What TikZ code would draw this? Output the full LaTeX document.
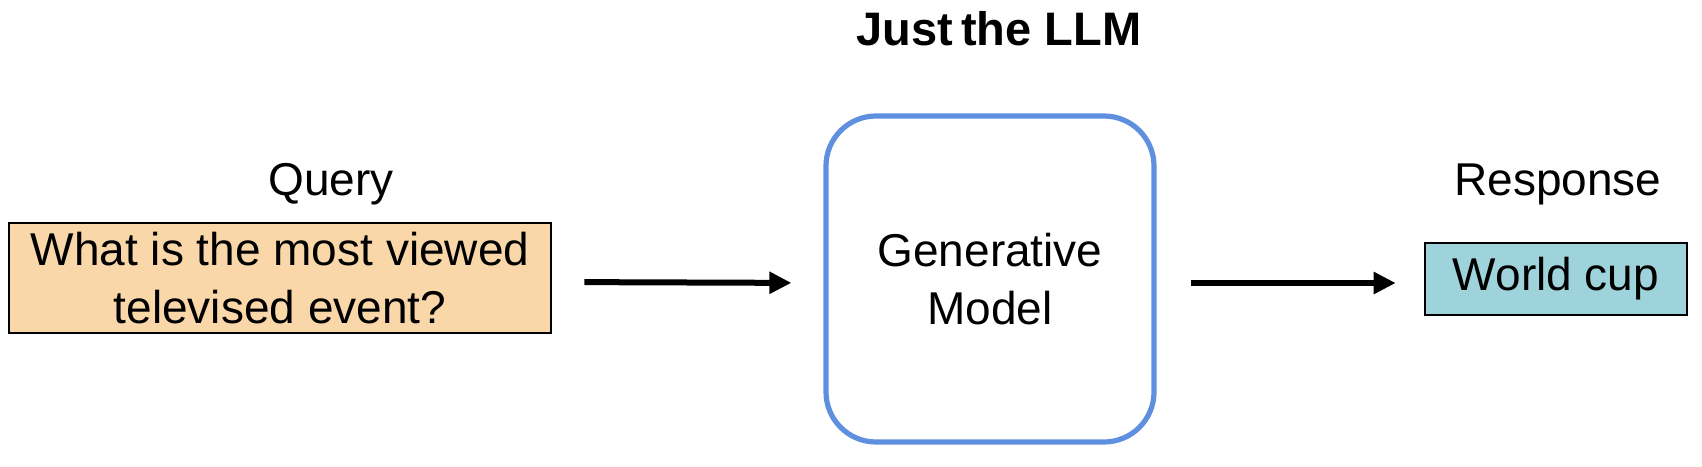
\documentclass[tikz,border=0pt]{standalone}
\usepackage{fontspec}
\setmainfont{Liberation Sans}
\usetikzlibrary{arrows.meta}
\definecolor{queryfill}{HTML}{F9D7A9}
\definecolor{answerfill}{HTML}{9FD3DB}
\definecolor{modelblue}{HTML}{5F8FDF}
\tikzset{
    txt/.style={font=\fontsize{23}{29}\selectfont, align=center, inner sep=0pt},
    iobox/.style={txt, draw=black, line width=1.3pt},
    flow/.style={line width=3pt, -{Triangle[length=11pt, width=10.5pt]}}
}
\begin{document}
\begin{tikzpicture}[x=0.5pt, y=-0.5pt]
    \useasboundingbox (0,0) rectangle (1702,466);
    % title
    \node[txt, font=\fontsize{23.5}{29}\selectfont\bfseries] (title) at (999,29) {Just\,the LLM};
    % input side
    \node[txt] (querylbl) at (331,184) {Query};
    \node[iobox, fill=queryfill, minimum width=271pt, minimum height=55pt] (query) at (280,278) {What is the most viewed\\televised event?};
    % model
    \node[txt, draw=modelblue, line width=2.6pt, rounded corners=25pt, minimum width=164pt, minimum height=163pt] (model) at (990,279) {Generative\\Model};
    % output side
    \node[txt] (answerlbl) at (1558,184) {Response};
    \node[iobox, fill=answerfill, minimum width=131pt, minimum height=36pt] (answer) at (1556,279) {World cup};
    % arrows
    \draw[flow, shorten <=16pt, shorten >=16pt] ([yshift=-2pt]query.east) -- ([yshift=-2pt]model.west);
    \draw[flow, shorten <=17pt, shorten >=14pt] ([yshift=-2pt]model.east) -- ([yshift=-2pt]answer.west);
\end{tikzpicture}
\end{document}
